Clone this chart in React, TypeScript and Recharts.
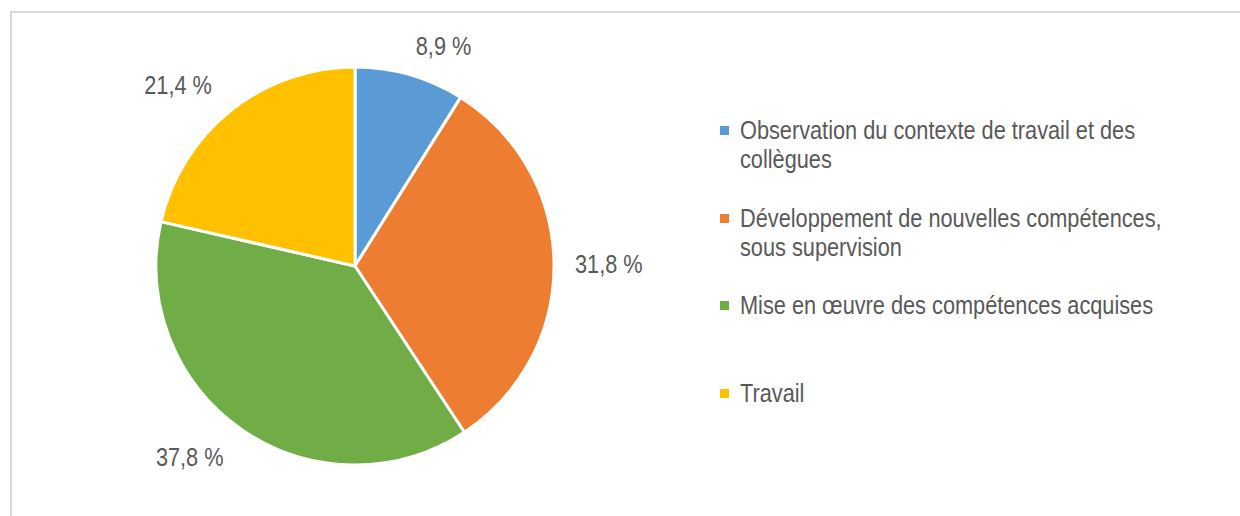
import { Pie, PieChart, Cell, Legend } from "recharts";

const categories = [
  "Observation du contexte de travail et des collègues",
  "Développement de nouvelles compétences, sous supervision",
  "Mise en œuvre des compétences acquises",
  "Travail",
];
const legendLines = [
  ["Observation du contexte de travail et des", "collègues"],
  ["Développement de nouvelles compétences,", "sous supervision"],
  ["Mise en œuvre des compétences acquises"],
  ["Travail"],
];
const shares = [8.9, 31.8, 37.8, 21.4];
const colors = ["#5B9BD5", "#ED7D31", "#70AD47", "#FFC000"];

const data = categories.map((name, i) => ({ name, value: shares[i] }));

// no narrow font installed, so squeeze Liberation Sans (Arial metrics)
const FONT = "'Liberation Sans', Arial, sans-serif";
const SQUEEZE = 0.82;
const TEXT = "#595959";
const RAD = Math.PI / 180;

const fmtPct = (n: number) => `${n.toFixed(1).replace(".", ",")} %`;

function renderLabel(props: any) {
  const { cx, cy, midAngle, outerRadius, value } = props;
  const ux = Math.cos(-midAngle * RAD);
  const uy = Math.sin(-midAngle * RAD);
  const r = outerRadius + 21;
  let px = cx + r * ux;
  const py = cy + r * uy;
  const anchor = ux > 0.1 ? "start" : ux < -0.1 ? "end" : "middle";
  if (anchor === "end") px -= 6;
  const cap = 19;
  let y = py + cap / 2;
  if (uy < -0.3) y = py;
  else if (uy > 0.3) y = py + cap;
  return (
    <text
      x={0}
      y={0}
      transform={`translate(${px},${y}) scale(${SQUEEZE},1)`}
      textAnchor={anchor}
      fill={TEXT}
      fontSize={26.5}
      fontFamily={FONT}
    >
      {fmtPct(value)}
    </text>
  );
}

function LegendContent() {
  return (
    <div style={{ fontFamily: FONT, fontSize: 26.5, color: TEXT }}>
      {legendLines.map((lines, i) => (
        <div key={i} style={{ height: 87.5, display: "flex", alignItems: "flex-start" }}>
          <span
            style={{
              display: "inline-block",
              width: 9,
              height: 9,
              background: colors[i],
              marginTop: 10,
              marginRight: 11,
              flex: "none",
            }}
          />
          <div style={{ lineHeight: "29px", transform: `scaleX(${SQUEEZE})`, transformOrigin: "left top" }}>
            {lines.map((l, j) => (
              <div key={j} style={{ whiteSpace: "nowrap" }}>{l}</div>
            ))}
          </div>
        </div>
      ))}
    </div>
  );
}

export default function App() {
  return (
    <div style={{ position: "absolute", left: 0, top: 0, width: 1240, height: 516, overflow: "hidden", background: "#fff" }}>
      <div
        style={{
          position: "absolute",
          left: 10,
          top: 11,
          width: 1300,
          height: 600,
          borderLeft: "2px solid #d9d9d9",
          borderTop: "2px solid #d9d9d9",
        }}
      />
      <div style={{ position: "absolute", left: 0, top: 0 }}>
        <PieChart width={1240} height={516} margin={{ top: 0, right: 0, bottom: 0, left: 0 }}>
          <Pie
            data={data}
            dataKey="value"
            nameKey="name"
            cx={355}
            cy={266}
            outerRadius={199}
            startAngle={90}
            endAngle={-270}
            stroke="#fff"
            strokeWidth={3}
            label={renderLabel}
            labelLine={false}
            isAnimationActive={false}
          >
            {data.map((d, i) => (
              <Cell key={d.name} fill={colors[i]} />
            ))}
          </Pie>
          <Legend
            content={<LegendContent />}
            layout="vertical"
            wrapperStyle={{ left: 720, top: 116, width: 500 }}
          />
        </PieChart>
      </div>
    </div>
  );
}
